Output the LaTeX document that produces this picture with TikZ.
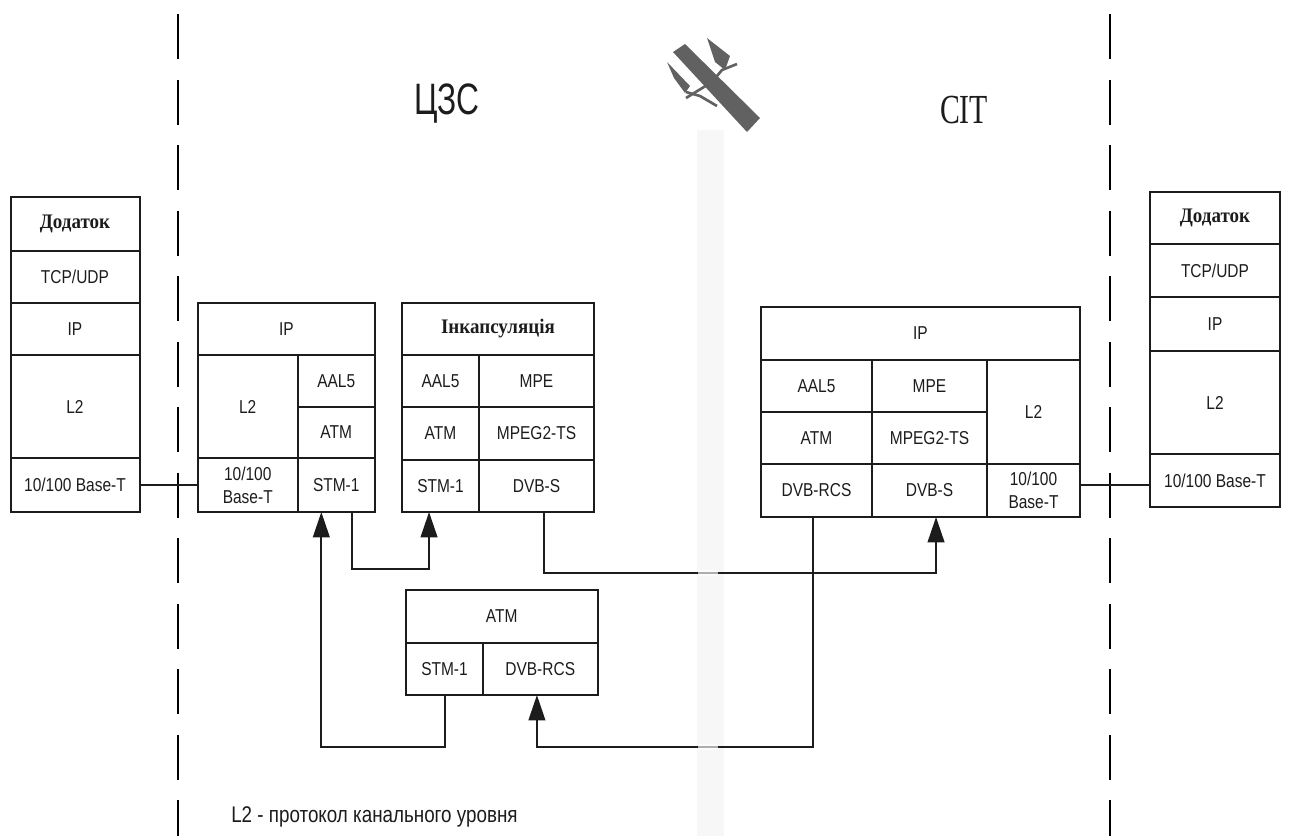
\documentclass[tikz,border=0pt]{standalone}
\usepackage{fontspec}
\setmainfont[FakeStretch=0.83]{Liberation Sans}
\newfontfamily\lblserif[FakeStretch=0.92]{Liberation Serif}
\newfontfamily\bigsans[FakeStretch=0.72]{Liberation Sans}
\newfontfamily\bigserif[FakeStretch=0.72]{Liberation Serif}
\usetikzlibrary{arrows.meta}
\definecolor{ink}{HTML}{1C1C1C}
\tikzset{
  cell/.style={draw=ink,line width=1.5pt,inner sep=0pt,outer sep=0pt,align=center,text=ink,
    font=\fontsize{14}{17}\selectfont},
  headcell/.style={cell,font=\lblserif\bfseries\fontsize{15.5}{18}\selectfont},
  conn/.style={draw=ink,line width=1.5pt},
  arrowconn/.style={conn,-{Triangle[length=19pt,width=12.5pt]}},
  border/.style={draw=black,line width=2.2pt,dash pattern=on 33.75pt off 15.4pt},
  sat/.style={fill=black!62,draw=none},
  satarm/.style={draw=black!62,line width=2pt}
}
% \cellbox[style]{name}{x0}{y0}{x1}{y1}{text}
\newcommand{\cellbox}[7][cell]{%
  \node[#1,minimum width={(#5-#3)*0.75pt},minimum height={(#6-#4)*0.75pt}] (#2)
    at ({(#3+#5)/2},{(#4+#6)/2}) {#7};}
\begin{document}
\begin{tikzpicture}[x=0.75pt,y=-0.75pt]
\useasboundingbox (0,0) rectangle (1289,836);
% faint vertical band
\fill[black!3] (697,130) rectangle (724,836);
% boundaries
\coordinate (lt) at (178,14); \coordinate (lb) at (178,836);
\coordinate (rt) at (1110,14); \coordinate (rb) at (1110,836);
\draw[border] (lt) -- (lb);
\draw[border] (rt) -- (rb);
% satellite
\fill[sat] (673,52) -- (685,44) -- (760,118) -- (747,132) -- cycle;
\fill[sat] (707,38) -- (730,56) -- (725,70) -- (715,62) -- cycle;
\fill[sat] (667,62) -- (690,86) -- (685,93) -- (674,78) -- cycle;
\draw[satarm] (686,98) -- (712,82) -- (722,70) -- (737,64);
\draw[satarm] (686,92) -- (700,96) -- (717,106);
% headings
\node[font=\bigsans\fontsize{33}{36}\selectfont,text=ink] (czs) at (447,104) {ЦЗС};
\node[font=\bigserif\fontsize{31}{34}\selectfont,text=ink] (sit) at (964,110) {СІТ};
% left stack
\cellbox[headcell]{la}{10.5}{197}{139.5}{251}{Додаток}
\cellbox{lb1}{10.5}{251}{139.5}{303}{TCP/UDP}
\cellbox{lc}{10.5}{303}{139.5}{355}{IP}
\cellbox{ld}{10.5}{355}{139.5}{458}{L2}
\cellbox{le}{10.5}{458}{139.5}{512}{10/100 Base-T}
% second box
\cellbox{ba}{198}{303}{375}{355}{IP}
\cellbox{bb}{198}{355}{297.5}{458}{L2}
\cellbox{bc}{297.5}{355}{375}{407}{AAL5}
\cellbox{bd}{297.5}{407}{375}{458}{ATM}
\cellbox{be}{198}{458}{297.5}{512}{10/100\\Base-T}
\cellbox{bf}{297.5}{458}{375}{512}{STM-1}
% third box
\cellbox[headcell]{ca}{402}{303}{594}{355}{Інкапсуляція}
\cellbox{cb}{402}{355}{479}{407}{AAL5}
\cellbox{cc}{479}{355}{594}{407}{MPE}
\cellbox{cd}{402}{407}{479}{460}{ATM}
\cellbox{ce}{479}{407}{594}{460}{MPEG2-TS}
\cellbox{cf}{402}{460}{479}{512}{STM-1}
\cellbox{cg}{479}{460}{594}{512}{DVB-S}
% fourth box
\cellbox{da}{761}{307}{1080}{360}{IP}
\cellbox{db}{761}{360}{872}{412}{AAL5}
\cellbox{dc}{872}{360}{987}{412}{MPE}
\cellbox{dd}{761}{412}{872}{464}{ATM}
\cellbox{de}{872}{412}{987}{464}{MPEG2-TS}
\cellbox{df}{987}{360}{1080}{464}{L2}
\cellbox{dg}{761}{464}{872}{517}{DVB-RCS}
\cellbox{dh}{872}{464}{987}{517}{DVB-S}
\cellbox{di}{987}{464}{1080}{517}{10/100\\Base-T}
% right stack
\cellbox[headcell]{ra}{1150}{192}{1280}{244}{Додаток}
\cellbox{rb1}{1150}{244}{1280}{297}{TCP/UDP}
\cellbox{rc}{1150}{297}{1280}{351}{IP}
\cellbox{rd}{1150}{351}{1280}{454}{L2}
\cellbox{re}{1150}{454}{1280}{507}{10/100 Base-T}
% ATM box
\cellbox{ea}{406}{590}{597.5}{643}{ATM}
\cellbox{eb}{406}{643}{483}{695}{STM-1}
\cellbox{ec}{483}{643}{597.5}{695}{DVB-RCS}
% connectors
\draw[conn] (le.east |- 0,485) -- (be.west |- 0,485);
\draw[conn] (di.east |- 0,485) -- (re.west |- 0,485);
\draw[arrowconn] (eb.south) -- (eb.south |- 0,747) -| ([xshift=-11.2pt]bf.south);
\draw[arrowconn] ([xshift=11.5pt]bf.south) -- ([xshift=11.5pt]bf.south |- 0,569) -| ([xshift=-8.6pt]cf.south);
\draw[arrowconn] ([xshift=5.6pt]cg.south) -- ([xshift=5.6pt]cg.south |- 0,573) -| ([xshift=4.9pt]dh.south);
\draw[arrowconn] ([xshift=-3pt]dg.south) -- ([xshift=-3pt]dg.south |- 0,747) -| ([xshift=-2.5pt]ec.south);
% the faded stretch of the long connectors
\fill[white,opacity=0.65] (698,570) rectangle (718,576);
\fill[white,opacity=0.65] (698,744) rectangle (718,750);
% legend
\node[anchor=west,inner sep=0pt,text=ink,font=\fontsize{17}{20}\selectfont] (legend) at (231,817) {L2 - протокол канального уровня};
\end{tikzpicture}
\end{document}
